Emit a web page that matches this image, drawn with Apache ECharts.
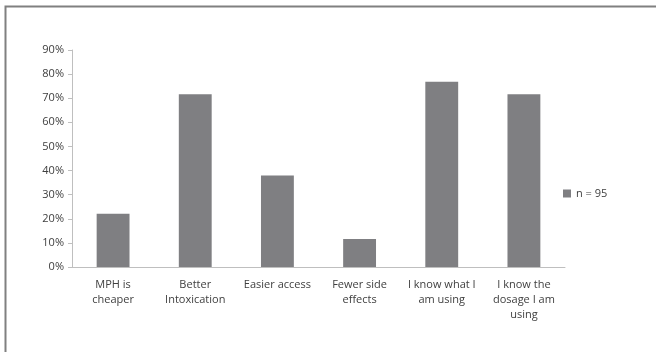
<!DOCTYPE html>
<html>
<head>
<meta charset="utf-8">
<script src="https://cdn.jsdelivr.net/npm/echarts@6/dist/echarts.min.js"></script>
<style>
  html, body { margin: 0; padding: 0; background: #fff; }
  #chart { width: 656px; height: 352px; }
</style>
</head>
<body>
<div id="chart"></div>
<script>
// categories (line breaks as in the original)
var categories = [
  'MPH is\ncheaper',
  'Better\nIntoxication',
  'Easier access',
  'Fewer side\neffects',
  'I know what I\nam using',
  'I know the\ndosage I am\nusing'
];
// share of respondents (%)
var values = [22.1, 71.6, 37.9, 11.6, 76.8, 71.6];
var seriesName = 'n = 95';
var yTicks = [0, 10, 20, 30, 40, 50, 60, 70, 80, 90];

var font = 'Open Sans, Lato, sans-serif';
var myChart = echarts.init(document.getElementById('chart'));

var option = {
  animation: false,
  backgroundColor: '#fff',
  graphic: [{
    type: 'rect',
    shape: { x: 5.5, y: 6.5, width: 700, height: 400 },
    style: { fill: 'none', stroke: '#808080', lineWidth: 2 },
    silent: true
  }],
  grid: { left: 72, right: 91, top: 50, bottom: 85 },
  legend: {
    data: [seriesName],
    left: 558, top: 183,
    itemWidth: 8, itemHeight: 8, itemGap: 4,
    icon: 'rect',
    textStyle: { fontFamily: font, fontSize: 11, color: '#404040' }
  },
  xAxis: {
    type: 'category',
    data: categories,
    axisLine: { lineStyle: { color: '#bfbfbf' } },
    axisTick: { length: 4, lineStyle: { color: '#bfbfbf' } },
    axisLabel: {
      margin: 10, interval: 0, lineHeight: 15,
      fontFamily: font, fontSize: 11, color: '#404040'
    }
  },
  yAxis: {
    type: 'value',
    min: yTicks[0], max: yTicks[yTicks.length - 1], interval: 10,
    axisLine: { show: true, lineStyle: { color: '#bfbfbf' } },
    axisTick: { show: true, length: 4, lineStyle: { color: '#bfbfbf' } },
    splitLine: { show: false },
    axisLabel: {
      margin: 8,
      fontFamily: font, fontSize: 11, color: '#404040',
      formatter: function (v) { return v + '%'; }
    }
  },
  series: [{
    name: seriesName,
    type: 'bar',
    data: values,
    barWidth: '40%',
    itemStyle: { color: '#7f7f82' }
  }]
};

myChart.setOption(option);
</script>
</body>
</html>
